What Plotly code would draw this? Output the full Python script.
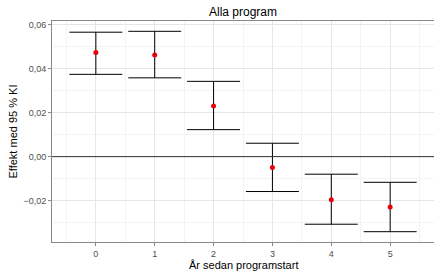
import plotly.graph_objects as go

years = [0, 1, 2, 3, 4, 5]
effect = [0.0474, 0.0463, 0.0231, -0.0050, -0.0197, -0.0229]
upper = [0.0567, 0.0571, 0.0343, 0.0061, -0.0080, -0.0117]
lower = [0.0375, 0.0359, 0.0123, -0.0159, -0.0308, -0.0342]

err_plus = [u - e for u, e in zip(upper, effect)]
err_minus = [e - l for e, l in zip(effect, lower)]

fig = go.Figure()
fig.add_trace(go.Scatter(
    x=years, y=effect, mode="markers",
    marker=dict(color="#e8000b", size=5),
    error_y=dict(type="data", symmetric=False, array=err_plus, arrayminus=err_minus,
                 color="black", thickness=1, width=26.5),
    showlegend=False,
))
fig.add_hline(y=0, line=dict(color="#333333", width=1))

fig.update_layout(
    width=434, height=271,
    margin=dict(l=52, r=0, t=21, b=29, autoexpand=False),
    paper_bgcolor="white", plot_bgcolor="white",
    separators=", ",
    font=dict(family="Liberation Sans, Arial, sans-serif", color="#222222"),
    annotations=[
        dict(text="Alla program", xref="paper", yref="paper", x=0.5, y=1.0,
             xanchor="center", yanchor="bottom", yshift=0, showarrow=False,
             font=dict(size=12, color="black")),
        dict(text="År sedan programstart", xref="paper", yref="paper", x=0.5, y=0,
             xanchor="center", yanchor="top", yshift=-15, showarrow=False,
             font=dict(size=11, color="black")),
        dict(text="Effekt med 95 % KI", xref="paper", yref="paper", x=0, y=0.5,
             xanchor="right", yanchor="middle", xshift=-32, textangle=-90, showarrow=False,
             font=dict(size=11, color="black")),
    ],
)
fig.update_xaxes(
    automargin=False,
    range=[-0.745, 5.745], tickmode="array", tickvals=years, ticktext=[str(y) for y in years],
    showgrid=True, gridcolor="#e6e6e6", gridwidth=1,
    minor=dict(dtick=0.5, tick0=0.5, showgrid=True, gridcolor="#f3f3f3", gridwidth=1),
    showline=True, linecolor="#888888", linewidth=1, mirror=True,
    ticks="outside", ticklen=3, tickcolor="#888888",
    tickfont=dict(size=9, color="#4d4d4d"),
    zeroline=False,
)
fig.update_yaxes(
    automargin=False,
    range=[-0.0389, 0.0618], tick0=0, dtick=0.02, tickformat=".2f",
    showgrid=True, gridcolor="#e6e6e6", gridwidth=1,
    minor=dict(dtick=0.01, tick0=0.01, showgrid=True, gridcolor="#f3f3f3", gridwidth=1),
    showline=True, linecolor="#888888", linewidth=1, mirror=True,
    ticks="outside", ticklen=3, tickcolor="#888888",
    tickfont=dict(size=9, color="#4d4d4d"),
    zeroline=False,
)

fig.write_html("out.html", config={"displayModeBar": False},
               post_script="document.body.style.margin='0';document.body.style.padding='0';")
